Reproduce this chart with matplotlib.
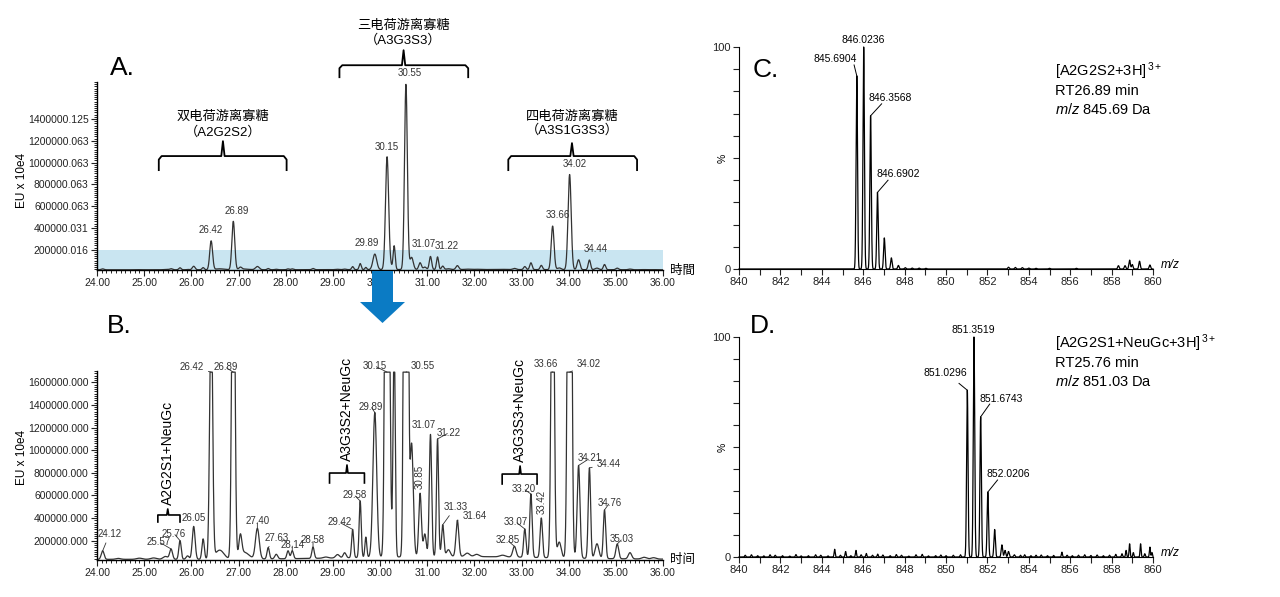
import numpy as np
import matplotlib
matplotlib.use('Agg')
import matplotlib.pyplot as plt
from matplotlib.ticker import FixedLocator, FixedFormatter, MultipleLocator, FormatStrFormatter
from matplotlib.patches import Polygon

plt.rcParams['font.family'] = ['Liberation Sans', 'Noto Sans CJK SC']
plt.rcParams['mathtext.fontset'] = 'custom'
plt.rcParams['mathtext.rm'] = 'Liberation Sans'
plt.rcParams['mathtext.it'] = 'Liberation Sans:italic'

W, H = 1280, 597
LINE = '#333333'

# ---- chromatogram peak table (heights in panel B units, EU) ----
chrom_rt = [24.12, 24.45, 24.90, 25.20, 25.45, 25.57, 25.76, 25.92, 26.05, 26.25,
            26.42, 26.60, 26.89, 27.04, 27.12, 27.40, 27.63, 27.80, 28.05, 28.14,
            28.58, 28.85, 29.10, 29.25, 29.42, 29.58, 29.70, 29.89, 30.15, 30.22,
            30.30, 30.55, 30.67, 30.85, 30.95, 31.07, 31.22, 31.33, 31.45, 31.64,
            31.85, 32.05, 32.60, 32.85, 33.07, 33.20, 33.42, 33.66, 33.80, 34.02,
            34.21, 34.44, 34.60, 34.76, 35.03, 35.30, 35.60, 35.80, 31.50]
chrom_height = [75e3, 8e3, 10e3, 12e3, 25e3, 90e3, 165e3, 30e3, 290e3, 180e3,
                2.38e6, 80e3, 4.0e6, 180e3, 60e3, 270e3, 100e3, 40e3, 70e3, 70e3,
                100e3, 10e3, 30e3, 45e3, 250e3, 500e3, 180e3, 1.28e6, 9.3e6, 300e3,
                1.96e6, 15.3e6, 1.0e6, 560e3, 200e3, 1.08e6, 1.04e6, 280e3, 60e3, 320e3,
                30e3, 20e3, 15e3, 95e3, 250e3, 560e3, 350e3, 3.6e6, 140e3, 7.86e6,
                820e3, 800e3, 130e3, 430e3, 130e3, 55e3, 15e3, 12e3, 25e3]
chrom_sigma = [0.03, 0.05, 0.06, 0.06, 0.05, 0.03, 0.025, 0.03, 0.03, 0.025,
               0.03, 0.09, 0.03, 0.03, 0.10, 0.04, 0.025, 0.03, 0.025, 0.025,
               0.025, 0.05, 0.04, 0.03, 0.022, 0.022, 0.02, 0.04, 0.033, 0.03,
               0.022, 0.03, 0.035, 0.028, 0.03, 0.025, 0.022, 0.025, 0.04, 0.03,
               0.05, 0.05, 0.06, 0.035, 0.025, 0.025, 0.025, 0.03, 0.04, 0.033,
               0.03, 0.025, 0.04, 0.025, 0.03, 0.035, 0.05, 0.05, 2.0]
B_BASE = 35e3
A_RATIO = 9.0
A_BASE = 16e3
B_CLIP = 1.69e6

A_ytick_vals = [200000, 400000, 600000, 800000, 1000000, 1200000, 1400000]
A_ytick_labels = ['200000.016', '400000.031', '600000.063', '800000.063',
                  '1000000.063', '1200000.063', '1400000.125']
B_ytick_vals = [200000, 400000, 600000, 800000, 1000000, 1200000, 1400000, 1600000]
B_ytick_labels = ['200000.000', '400000.000', '600000.000', '800000.000',
                  '1000000.000', '1200000.000', '1400000.000', '1600000.000']

# labels: retention time, x offset px, y offset px (centre above peak top)
A_labels = [('26.42', 0, 6), ('26.89', 3, 5), ('29.89', -8, 6), ('30.15', 0, 5),
            ('30.55', 4, 6), ('31.07', -7, 7), ('31.22', 9, 6), ('33.66', 5, 6),
            ('34.02', 5, 6), ('34.44', 6, 6)]
B_labels = [('24.12', 7, 17), ('25.57', -12, 7), ('25.76', -6, 7), ('26.05', 0, 8),
            ('26.42', -19, 5), ('26.89', -8, 5), ('27.40', 0, 7), ('27.63', 8, 10),
            ('28.14', 0, 6), ('28.58', 0, 7), ('29.42', -13, 7), ('29.58', -6, 6),
            ('29.89', -4, 6), ('30.15', -12, 6), ('30.55', 17, 6), ('31.07', -7, 9),
            ('31.22', 11, 6), ('31.33', 13, 18), ('31.64', 17, 4), ('32.85', -7, 6),
            ('33.07', -9, 7), ('33.20', -7, 5), ('33.66', -7, 8), ('34.02', 19, 8),
            ('34.21', 11, 7), ('34.44', 19, 4), ('34.76', 5, 7), ('35.03', 5, 5)]
B_vlabels = [('30.85', 0, 4), ('33.42', 0, 4)]

# ---- mass spectra ----
C_mz = [845.6904, 846.0236, 846.3568, 846.6902, 847.02, 847.36, 847.70, 848.03,
        848.37, 848.70, 849.03, 853.02, 853.35, 853.69, 854.00, 854.35, 855.00,
        856.30, 858.33, 858.65, 858.87, 859.00, 859.35, 859.85]
C_int = [87, 100, 69, 34.5, 14, 5, 1.6, 0.6, 0.4, 0.4, 0.3, 0.8, 0.7, 0.6, 0.4,
         0.3, 0.3, 0.3, 1.5, 1.5, 4, 2, 3.5, 1.8]
D_mz = [851.0296, 851.3519, 851.6743, 852.0206, 852.35, 852.70, 852.85, 853.02, 853.30]
D_int = [75.8, 100, 63.7, 29.5, 12.5, 5.5, 3, 2.5, 1]
D_noise_mz = [840.3, 840.6, 840.9, 841.2, 841.5, 841.75, 842.1, 842.45, 842.75, 843.0,
              843.35, 843.7, 843.95, 844.3, 844.62, 844.9, 845.15, 845.4, 845.65, 845.9,
              846.15, 846.45, 846.7, 846.95, 847.3, 847.6, 847.85, 848.2, 848.55, 848.85,
              849.15, 849.5, 849.75, 850.0, 850.35, 850.7, 853.6, 853.8, 854.1,
              854.35, 854.6, 854.9, 855.2, 855.6, 855.85, 856.1, 856.4, 856.7, 857.0,
              857.3, 857.6, 857.9, 858.2, 858.5, 858.7, 858.87, 859.05, 859.4, 859.6,
              859.85, 859.95]
D_noise_int = [0.8, 1.0, 0.6, 0.5, 1.0, 0.8, 0.6, 0.4, 1.1, 0.5,
               0.6, 1.0, 0.8, 0.5, 3.5, 0.8, 2.5, 0.6, 3.0, 1.0,
               1.6, 0.8, 1.3, 0.9, 0.6, 1.1, 0.8, 0.4, 1.0, 1.2,
               0.5, 0.6, 0.9, 0.6, 0.8, 1.0, 0.8, 1.0, 0.6,
               0.8, 0.9, 0.6, 0.7, 2.2, 0.8, 0.6, 0.8, 1.0, 0.7,
               0.9, 0.6, 0.8, 1.2, 1.5, 3.0, 6.0, 2.0, 6.0, 1.5,
               4.5, 2.0]
C_labels = [('845.6904', 844.65, 94.6, 845.56, 91.9, 845.69, 87.0),
            ('846.0236', 846.02, 103.3, None, None, None, None),
            ('846.3568', 847.32, 77.0, 846.89, 74.4, 846.357, 69.0),
            ('846.6902', 847.67, 42.6, 847.20, 40.0, 846.69, 34.5)]
D_labels = [('851.3519', 851.31, 103.3, None, None, None, None),
            ('851.0296', 849.99, 83.8, 850.63, 78.9, 851.03, 75.8),
            ('851.6743', 852.66, 72.0, 852.11, 69.5, 851.674, 63.7),
            ('852.0206', 853.01, 37.6, 852.49, 35.0, 852.02, 29.5)]


def peaks(x, pos, height, sigma):
    y = np.zeros_like(x)
    for p, h, s in zip(pos, height, sigma):
        y += h * np.exp(-0.5 * ((x - p) / s) ** 2)
    return y


t = np.linspace(24, 36, 8001)
raw = peaks(t, chrom_rt, chrom_height, chrom_sigma)
trace_A = raw / A_RATIO + A_BASE
trace_B = np.minimum(raw + B_BASE, B_CLIP)

fig = plt.figure(figsize=(12.8, 5.97), dpi=100)


def rect(l, top, r, bottom):
    return [l / W, 1 - bottom / H, (r - l) / W, (bottom - top) / H]


def chrom_axes(ax, ylim, yvals, ylabels, tlabel):
    ax.set_xlim(24, 36)
    ax.set_ylim(*ylim)
    for s in ['top', 'right']:
        ax.spines[s].set_visible(False)
    for s in ['left', 'bottom']:
        ax.spines[s].set_linewidth(1.0)
    ax.xaxis.set_major_locator(MultipleLocator(1))
    ax.xaxis.set_minor_locator(MultipleLocator(0.1))
    ax.xaxis.set_major_formatter(FormatStrFormatter('%.2f'))
    ax.yaxis.set_major_locator(FixedLocator(yvals))
    ax.yaxis.set_major_formatter(FixedFormatter(ylabels))
    ax.yaxis.set_minor_locator(MultipleLocator(20000))
    ax.tick_params(which='major', length=4, width=0.8, labelsize=7.5, pad=2, colors='#222222')
    ax.tick_params(which='minor', length=2, width=0.6)
    ax.text(36.15, 0, tlabel, transform=ax.get_xaxis_transform(), ha='left', va='center',
            fontsize=9, family=['Noto Sans CJK SC'])


# ---------------- panel A ----------------
axA = fig.add_axes(rect(97, 82, 663, 270))
axA.axhspan(0, 200000, color='#c9e5f1', zorder=0, lw=0)
axA.plot(t, trace_A, color=LINE, lw=0.9)
chrom_axes(axA, (14e3, 1.74e6), A_ytick_vals, A_ytick_labels, '時間')

for lab, dx, dy in A_labels:
    rt = float(lab)
    top = trace_A[np.argmin(np.abs(t - rt))]
    axA.annotate(lab, xy=(rt, top), xytext=(dx, dy), textcoords='offset pixels',
                 ha='center', va='bottom', fontsize=7, color=LINE)

brackets_A = [
    (25.31, 28.02, 26.67, 1.06e6, 0.931e6, 1.197e6, '双电荷游离寡糖', '（A2G2S2）', 1.417e6, 1.28e6),
    (29.14, 31.87, 30.50, 1.894e6, 1.784e6, 2.032e6, '三电荷游离寡糖', '（A3G3S3）', 2.26e6, 2.124e6),
    (32.72, 35.45, 34.07, 1.06e6, 0.931e6, 1.179e6, '四电荷游离寡糖', '（A3S1G3S3）', 1.417e6, 1.298e6),
]
for x0, x1, xc, yh, ye, ytip, l1, l2, yt1, yt2 in brackets_A:
    d = 0.06
    r = (yh - ye) * 0.25
    bx = [x0, x0, x0 + d, xc - 0.035, xc, xc + 0.035, x1 - d, x1, x1]
    by = [ye, yh - r, yh, yh, ytip, yh, yh, yh - r, ye]
    axA.plot(bx, by, color='black', lw=1.3, clip_on=False, solid_joinstyle='round')
    axA.text(xc, yt1, l1, ha='center', va='center', fontsize=9.5, clip_on=False)
    axA.text(xc, yt2, l2, ha='center', va='center', fontsize=9.5, clip_on=False)

# ---------------- panel B ----------------
axB = fig.add_axes(rect(97, 371, 663, 560))
axB.plot(t, trace_B, color=LINE, lw=0.9)
chrom_axes(axB, (29e3, 1.70e6), B_ytick_vals, B_ytick_labels, '时间')

for lab, dx, dy in B_labels:
    rt = float(lab)
    top = trace_B[np.argmin(np.abs(t - rt))]
    axB.annotate(lab, xy=(rt, top), xytext=(dx, dy), textcoords='offset pixels',
                 ha='center', va='center', fontsize=7, color=LINE,
                 arrowprops=dict(arrowstyle='-', lw=0.6, color=LINE, shrinkA=1, shrinkB=0))
for lab, dx, dy in B_vlabels:
    rt = float(lab)
    top = trace_B[np.argmin(np.abs(t - rt))]
    axB.annotate(lab, xy=(rt, top), xytext=(dx, dy), textcoords='offset pixels',
                 ha='center', va='bottom', rotation=90, fontsize=7, color=LINE)

brackets_B = [
    (25.29, 25.76, 25.50, 427e3, 365e3, 480e3, 'A2G2S1+NeuGc'),
    (28.93, 29.67, 29.30, 798e3, 710e3, 869e3, 'A3G3S2+NeuGc'),
    (32.59, 33.33, 32.97, 789e3, 701e3, 860e3, 'A3G3S3+NeuGc'),
]
for x0, x1, xc, yh, ye, ytip, lab in brackets_B:
    d = 0.02
    bx = [x0, x0, xc - d, xc, xc + d, x1, x1]
    by = [ye, yh, yh, ytip, yh, yh, ye]
    axB.plot(bx, by, color='black', lw=1.2, clip_on=False)
    axB.annotate(lab, xy=(xc, ytip), xytext=(0, 4), textcoords='offset pixels',
                 ha='center', va='bottom', rotation=90, fontsize=10)

for py, txt in [(180, 'EU x 10e4'), (457, 'EU x 10e4')]:
    fig.text(22 / W, 1 - py / H, txt, rotation=90, ha='center', va='center', fontsize=8.5)

# blue arrow between A and B
arrow_px = [(372, 271), (393, 271), (393, 302), (405, 302), (382.5, 323), (360, 302), (372, 302)]
fig.patches.append(Polygon([(x / W, 1 - y / H) for x, y in arrow_px], closed=True,
                           transform=fig.transFigure, facecolor='#0b7bc4', edgecolor='none'))

# ---------------- panels C and D ----------------
mz = np.linspace(840, 860, 16001)
spec_C = peaks(mz, C_mz, C_int, [0.035] * len(C_mz))
spec_D = peaks(mz, D_mz, D_int, [0.035] * len(D_mz)) + \
    peaks(mz, D_noise_mz, D_noise_int, [0.025] * len(D_noise_mz))


def ms_axes(ax):
    ax.set_xlim(840, 860)
    ax.set_ylim(0, 100)
    for s in ['top', 'right']:
        ax.spines[s].set_visible(False)
    ax.xaxis.set_major_locator(MultipleLocator(2))
    ax.xaxis.set_minor_locator(MultipleLocator(1))
    ax.yaxis.set_major_locator(FixedLocator([0, 100]))
    ax.yaxis.set_minor_locator(MultipleLocator(10))
    ax.tick_params(which='both', length=4, width=0.8, labelsize=8, pad=2, colors='#222222')
    ax.text(-0.04, 0.5, '%', transform=ax.transAxes, rotation=90, ha='center', va='center', fontsize=7.5)
    ax.text(1.02, 0.02, 'm/z', transform=ax.transAxes, ha='left', va='center', fontsize=8.5, style='italic')


axC = fig.add_axes(rect(739, 47, 1153, 269))
axC.plot(mz, spec_C, color='black', lw=0.9, clip_on=False)
ms_axes(axC)
axD = fig.add_axes(rect(739, 337, 1153, 557))
axD.plot(mz, spec_D, color='black', lw=0.9, clip_on=False)
ms_axes(axD)

for ax, labels in [(axC, C_labels), (axD, D_labels)]:
    for lab, tx, ty, lx0, ly0, lx1, ly1 in labels:
        ax.text(tx, ty, lab, ha='center', va='center', fontsize=7.5, clip_on=False)
        if lx0 is not None:
            ax.plot([lx0, lx1], [ly0, ly1], color='black', lw=0.7, clip_on=False)

axC.text(855.25, 89.0, r'[A2G2S2+3H]$^{\,3+}$', ha='left', va='center', fontsize=10.5)
axC.text(855.25, 80.0, 'RT26.89 min', ha='left', va='center', fontsize=10.5)
axC.text(855.25, 71.7, r'$m/z$ 845.69 Da', ha='left', va='center', fontsize=10.5)
axD.text(855.25, 97.3, r'[A2G2S1+NeuGc+3H]$^{\,3+}$', ha='left', va='center', fontsize=10.5, clip_on=False)
axD.text(855.25, 88.0, 'RT25.76 min', ha='left', va='center', fontsize=10.5)
axD.text(855.25, 80.0, r'$m/z$ 851.03 Da', ha='left', va='center', fontsize=10.5)

# panel letters
for px, py, letter in [(110, 68, 'A.'), (107, 326, 'B.'), (753, 70, 'C.'), (750, 326, 'D.')]:
    fig.text(px / W, 1 - py / H, letter, ha='left', va='center', fontsize=19)

fig.savefig('out.png', dpi=100)
